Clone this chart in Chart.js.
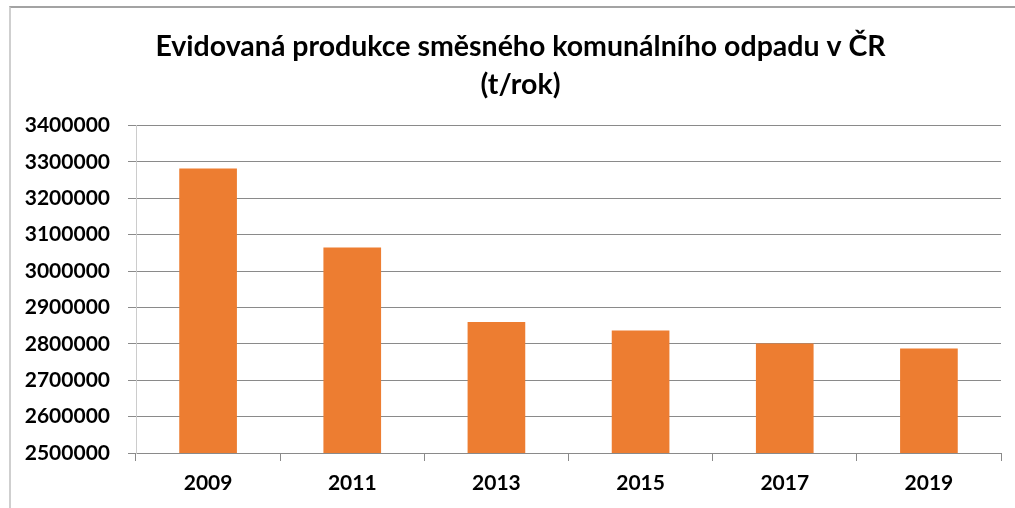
<!DOCTYPE html>
<html>
<head>
<meta charset="utf-8">
<script src="https://cdn.jsdelivr.net/npm/chart.js@4"></script>
<style>
  body { margin: 0; background: #fff; }
  #wrap { position: relative; width: 1015px; height: 508px; }
  #frame {
    position: absolute; left: 9px; top: 6px; right: -2px; bottom: -2px;
    border-top: 2px solid #a3a3a3; border-left: 2px solid #cfcfcf;
  }
  canvas { position: absolute; left: 0; top: 0; }
</style>
</head>
<body>
<div id="wrap">
  <div id="frame"></div>
  <canvas id="chart" width="1015" height="508"></canvas>
</div>
<script>
const years = ["2009", "2011", "2013", "2015", "2017", "2019"];
const wasteTons = [3282000, 3065000, 2860000, 2837000, 2801000, 2787000];
const titleLines = ["Evidovaná produkce směsného komunálního odpadu v ČR", "(t/rok)"];
const yMin = 2500000;
const yMax = 3400000;
const yStep = 100000;

const ctx = document.getElementById("chart").getContext("2d");

// The original chart is wider than the picture, so its title sits right of centre
const shiftTitle = {
  id: "shiftTitle",
  afterLayout(chart) {
    if (chart.titleBlock) chart.titleBlock.left += 40;
  },
};

// Draw the chart
new Chart(ctx, {
  type: "bar",
  data: {
    labels: years,
    datasets: [
      {
        data: wasteTons,
        backgroundColor: "#ED7D31",
        barPercentage: 0.4,
        categoryPercentage: 1,
      },
    ],
  },
  options: {
    responsive: false,
    animation: false,
    layout: { padding: { left: 0, right: 14, top: 0, bottom: 0 } },
    plugins: {
      legend: { display: false },
      tooltip: { enabled: false },
      title: {
        display: true,
        text: titleLines,
        color: "#000",
        font: { family: "Lato", size: 28.5, weight: "bold", lineHeight: 1.326 },
        padding: { top: 28, bottom: 22 },
      },
    },
    scales: {
      x: {
        grid: {
          offset: true,
          drawOnChartArea: false,
          drawTicks: true,
          tickLength: 8,
          color: "#8a8a8a",
        },
        border: { color: "#8a8a8a", width: 1 },
        ticks: {
          color: "#000",
          font: { family: "Lato", size: 21, weight: "bold" },
          padding: 10,
        },
        afterFit: (scale) => {
          scale.height = 55;
        },
      },
      y: {
        min: yMin,
        max: yMax,
        grid: { color: "#8a8a8a", tickLength: 8 },
        border: { color: "#cccccc", width: 1 },
        ticks: {
          stepSize: yStep,
          color: "#000",
          font: { family: "Lato", size: 21, weight: "bold" },
          padding: 18,
          callback: (value) => String(value),
        },
        afterFit: (scale) => {
          scale.width = 136;
        },
      },
    },
  },
  plugins: [shiftTitle],
});
</script>
</body>
</html>
